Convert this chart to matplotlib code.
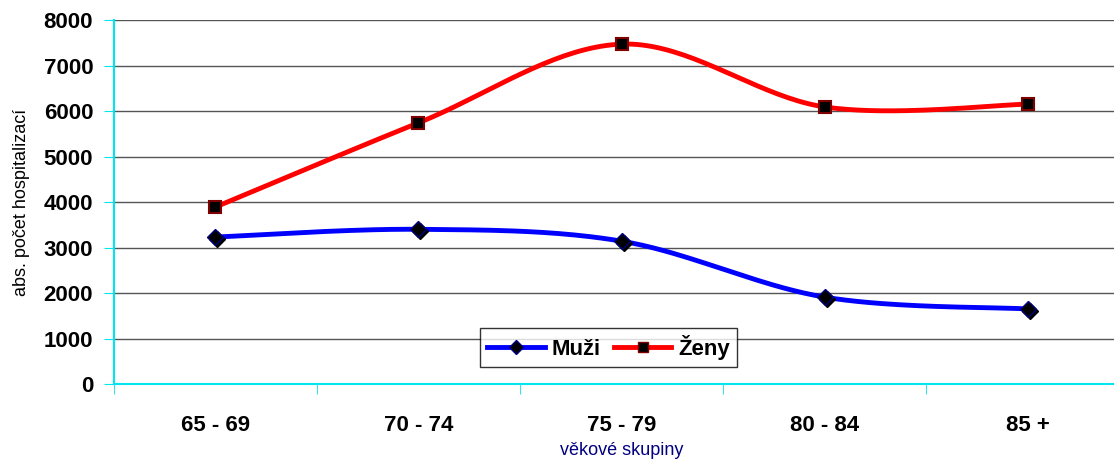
import numpy as np
import matplotlib.pyplot as plt
from matplotlib import transforms

# hodnoty
skupiny = ["65 - 69", "70 - 74", "75 - 79", "80 - 84", "85 +"]
muzi = [3230, 3400, 3140, 1910, 1650]
zeny = [3890, 5740, 7470, 6090, 6150]


def vyhladit(y, n=40):
    # vyhlazená čára jako v Excelu (Catmull-Rom přes Bezierovy křivky)
    x = np.arange(len(y), dtype=float)
    y = np.asarray(y, dtype=float)
    px = np.concatenate([[x[0]], x, [x[-1]]])
    py = np.concatenate([[y[0]], y, [y[-1]]])
    xs, ys = [], []
    t = np.linspace(0, 1, n)
    for i in range(1, len(x)):
        p0 = np.array([px[i], py[i]])
        p3 = np.array([px[i + 1], py[i + 1]])
        c1 = p0 + (np.array([px[i + 1], py[i + 1]]) - np.array([px[i - 1], py[i - 1]])) / 6
        c2 = p3 - (np.array([px[i + 2], py[i + 2]]) - np.array([px[i], py[i]])) / 6
        b = ((1 - t) ** 3)[:, None] * p0 + (3 * (1 - t) ** 2 * t)[:, None] * c1 \
            + (3 * (1 - t) * t ** 2)[:, None] * c2 + (t ** 3)[:, None] * p3
        xs.extend(b[:, 0])
        ys.extend(b[:, 1])
    return np.array(xs), np.array(ys)


plt.rcParams["font.family"] = ["Liberation Sans", "DejaVu Sans"]

fig = plt.figure(figsize=(11.14, 4.59), dpi=100)
ax = fig.add_axes([0.1023, 0.1634, 0.9112, 0.793])

x = np.arange(len(skupiny))

xm, ym = vyhladit(muzi)
xz, yz = vyhladit(zeny)
ax.plot(xm, ym, color="#0000ff", lw=3.5, zorder=3)
ax.plot(xz, yz, color="#ff0000", lw=3.5, zorder=3)

# stín kosočtverců
stin = transforms.offset_copy(ax.transData, fig=fig, x=2, y=-2, units="dots")
ax.plot(x, muzi, "D", color="black", ms=8, transform=stin, zorder=4)
ax.plot(x, muzi, "D", color="black", mec="#000080", ms=8, zorder=5)
ax.plot(x, zeny, "s", color="black", mec="#800000", mew=1.5, ms=8, zorder=5)

# legenda
h1, = ax.plot([], [], color="#0000ff", lw=3.5, marker="D", mfc="black", mec="#000080", ms=7)
h2, = ax.plot([], [], color="#ff0000", lw=3.5, marker="s", mfc="black", mec="#800000", ms=7)
leg = ax.legend([h1, h2], ["Muži", "Ženy"], loc="center", bbox_to_anchor=(0.487, 0.1), ncol=2,
                frameon=True, fancybox=False, prop={"weight": "bold", "size": 16},
                handlelength=2.6, handletextpad=0.3, columnspacing=0.6, borderpad=0.3)
leg.get_frame().set_edgecolor("black")
leg.get_frame().set_linewidth(1.0)
leg.set_zorder(6)

ax.set_xlim(-0.5, 4.5)
ax.set_ylim(0, 8000)
ax.set_yticks(range(0, 8001, 1000))
ax.yaxis.grid(True, color="#555555", lw=1.0)
ax.set_axisbelow(True)

ax.set_xticks(x)
ax.set_xticklabels(skupiny, fontsize=16, fontweight="bold")
ax.set_xticks(np.arange(-0.5, 5, 1), minor=True)
ax.tick_params(axis="x", which="major", length=0, pad=22)
ax.tick_params(axis="x", which="minor", length=7, color="#00e5ee", direction="out")
ax.tick_params(axis="y", length=7, color="#00e5ee", direction="out", pad=8,
               labelsize=16)
for lbl in ax.get_yticklabels():
    lbl.set_fontweight("bold")

for s in ["top", "right"]:
    ax.spines[s].set_visible(False)
for s in ["left", "bottom"]:
    ax.spines[s].set_color("#00e5ee")
    ax.spines[s].set_linewidth(1.5)

ax.set_ylabel("abs. počet hospitalizací", fontsize=13, labelpad=10)
ax.set_xlabel("věkové skupiny", fontsize=13, color="#000080")
ax.xaxis.set_label_coords(0.5, -0.16)

fig.savefig("out.png", dpi=100)
